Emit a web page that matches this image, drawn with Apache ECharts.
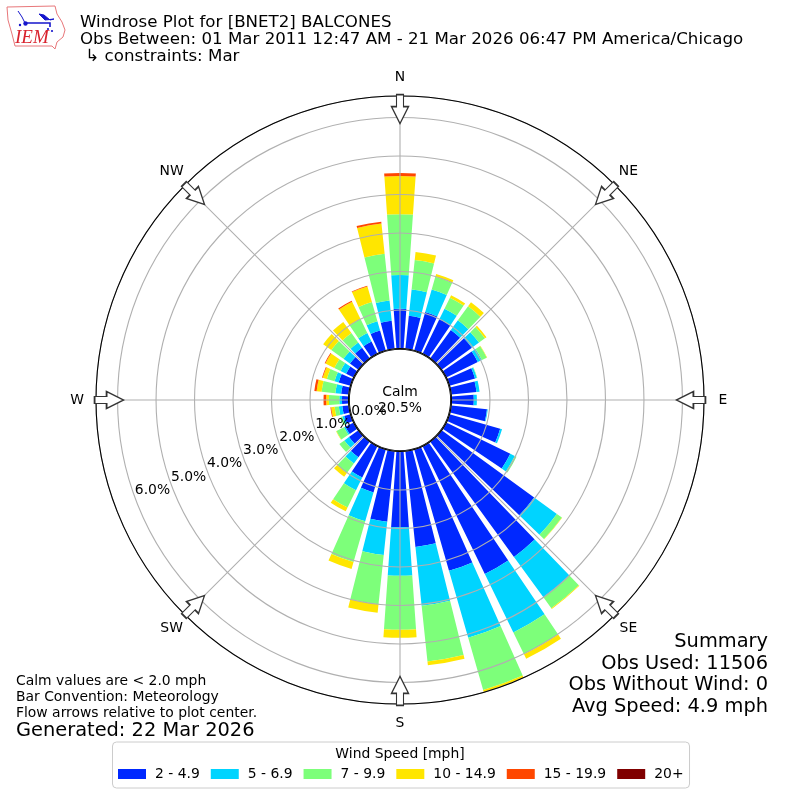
<!DOCTYPE html>
<html><head><meta charset="utf-8">
<style>html,body{margin:0;padding:0;background:#fff}#c{width:800px;height:800px}</style>
<script src="https://cdn.jsdelivr.net/npm/echarts@6/dist/echarts.min.js"></script>
</head><body><div id="c"></div>
<script>
const directions = Array.from({length:36},(_, i)=>String(i*10));
const speedBins = ['2 - 4.9','5 - 6.9','7 - 9.9','10 - 14.9','15 - 19.9','20+'];
const binColors = ['#0028ff','#00d4ff','#7dff7a','#ffe600','#ff4700','#800000'];
const bin1 = [1.03,.86,1.04,1.0,.91,.97,.91,.69,.66,.58,.935,1.37,1.85,2.97,3.70,3.69,3.28,2.5,1.97,1.84,1.16,.9,.5,.30,.24,.17,.17,.17,.2,.32,.22,.27,.34,.35,.54,.73];
const bin2 = [.88,.69,.61,.30,.31,.23,.12,.05,.08,.08,.02,.05,.13,.73,1.30,1.69,1.81,1.54,1.26,.87,.78,.37,.2,.15,.04,.05,.09,.07,.15,.11,.16,.21,.17,.25,.25,.53];
const bin3 = [1.58,.77,.34,.32,.45,.19,.14,.01,0,0,0,0,.05,.16,.35,.63,1.41,1.45,1.40,1.29,1.10,.5,.31,.16,.22,.05,.11,.27,.36,.21,.18,.39,.30,.40,.52,1.22];
const bin4 = [.99,.21,.08,.07,.13,.05,.01,0,0,0,0,0,0,.01,.02,.13,.06,.10,.21,.22,.19,.11,.12,0,.01,0,.09,.07,.13,.11,.26,.26,.36,.50,.42,.79];
const bin5 = [.08,0,0,0,0,0,0,0,0,0,0,0,0,0,0,0,0,0,0,0,0,0,0,0,0,0,.02,.07,.06,.02,.02,0,0,.03,.02,.05];
const bin6 = new Array(36).fill(0);
const binValues = [bin1,bin2,bin3,bin4,bin5,bin6];
const compassNames = ['N','NE','E','SE','S','SW','W','NW'];
const compassAngles = [0,45,90,135,180,225,270,315];
const radiusTicks = [0,1,2,3,4,5,6];
const radiusMax = 6.56;
const arrowRadius = 6.22;
const titleLines = ['Windrose Plot for [BNET2] BALCONES','Obs Between: 01 Mar 2011 12:47 AM - 21 Mar 2026 06:47 PM America/Chicago',' ↳ constraints: Mar'];
const noteLines = ['Calm values are < 2.0 mph','Bar Convention: Meteorology','Flow arrows relative to plot center.'];
const generated = 'Generated: 22 Mar 2026';
const summaryLines = ['Summary','Obs Used: 11506','Obs Without Wind: 0','Avg Speed: 4.9 mph'];

const F = 'DejaVu Sans';
const txt = (x,y,text,size,align,extra)=>({type:'text',x,y,z:20,silent:true,style:Object.assign({text,fill:'#000',font:size+'px "'+F+'"',textAlign:align||'left',textVerticalAlign:'middle'},extra||{})});
const graphics = [];
const titleY=[22.5,39.5,57];
titleLines.forEach((t,i)=>graphics.push(txt(80,titleY[i],t,16.67)));
noteLines.forEach((t,i)=>graphics.push(txt(16,681+i*16,t,13.9)));
graphics.push(txt(16,731,generated,19.4));
const sumY=[642,664,685,707];
summaryLines.forEach((t,i)=>graphics.push(txt(768,sumY[i],t,19.4,'right')));
graphics.push(txt(400,392,'Calm',13.9,'center'));
graphics.push(txt(400,408,'20.5%',13.9,'center'));
graphics.push({type:'circle',z:3,silent:true,shape:{cx:400,cy:400,r:50.7},style:{fill:'#fff',stroke:'#000',lineWidth:1.1}});
graphics.push(txt(400,754,'Wind Speed [mph]',13.9,'center'));
// IEM logo
graphics.push({type:'polygon',z:20,silent:true,shape:{points:[[7,7],[55,6],[57,14],[62,22],[65,30],[63,37],[57,42],[55,49],[52,46],[15,46],[12,34],[8,20]]},style:{fill:'#fff',stroke:'#e8777a',lineWidth:1}});
graphics.push(txt(15,38,'IEM',19,'left',{fill:'#d9232e',font:'italic 19px "Liberation Serif"'}));
graphics.push({type:'polyline',z:20,silent:true,shape:{points:[[25,23],[50,23],[50,27]]},style:{fill:'none',stroke:'#1616cc',lineWidth:1.6}});
graphics.push({type:'polyline',z:20,silent:true,shape:{points:[[18,11],[22,17],[25,23]]},style:{fill:'none',stroke:'#1616cc',lineWidth:1}});
graphics.push({type:'polygon',z:20,silent:true,shape:{points:[[39,14],[44,15],[50,20],[54,19],[45,20]]},style:{fill:'#1616cc',stroke:'#1616cc',lineWidth:1}});
graphics.push({type:'circle',z:20,silent:true,shape:{cx:25.5,cy:23.5,r:2.2},style:{fill:'#1616cc'}});
graphics.push({type:'circle',z:20,silent:true,shape:{cx:20,cy:25,r:1.2},style:{fill:'#1616cc'}});
graphics.push({type:'circle',z:20,silent:true,shape:{cx:48,cy:29,r:1.1},style:{fill:'#1616cc'}});
graphics.push({type:'circle',z:20,silent:true,shape:{cx:52,cy:31,r:1.1},style:{fill:'#1616cc'}});

const barSeries = speedBins.map((name,i)=>({
  name,type:'bar',coordinateSystem:'polar',polarIndex:0,stack:'wind',barWidth:'80%',
  data:binValues[i],itemStyle:{color:binColors[i]},silent:true,z:2
}));

const option = {
  animation:false,backgroundColor:'#fff',
  polar:[
    {center:[400,400],radius:[51.5,304]},
    {center:[400,400],radius:[51.5,304]},
    {center:[400,400],radius:[33,263.4]},
    {center:[400,400],radius:[0,323]}
  ],
  angleAxis:[
    {polarIndex:0,type:'category',data:directions,startAngle:95,show:false},
    {polarIndex:1,type:'value',min:0,max:360,interval:45,startAngle:90,z:5,
      axisLine:{show:true,lineStyle:{color:'#000',width:1.1}},axisTick:{show:false},
      splitLine:{show:true,lineStyle:{color:'#b0b0b0',width:1.1}},axisLabel:{show:false}},
    {polarIndex:2,type:'value',min:0,max:360,startAngle:200,show:false},
    {polarIndex:3,type:'value',min:0,max:360,startAngle:90,show:false}
  ],
  radiusAxis:[
    {polarIndex:0,type:'value',min:0,max:radiusMax,show:false},
    {polarIndex:1,type:'value',min:0,max:radiusMax,interval:1,z:5,axisLine:{show:false},axisTick:{show:false},axisLabel:{show:false},
      splitLine:{show:true,lineStyle:{color:'#b0b0b0',width:1.1}}},
    {polarIndex:2,type:'value',min:radiusTicks[0],max:radiusTicks[radiusTicks.length-1],interval:1,z:8,axisLine:{show:false},axisTick:{show:false},splitLine:{show:false},
      axisLabel:{show:true,margin:0,align:'center',verticalAlign:'middle',fontFamily:F,fontSize:13.9,color:'#000',formatter:v=>v.toFixed(1)+'%',hideOverlap:false}},
    {polarIndex:3,type:'value',min:0,max:1,show:false}
  ],
  legend:{
    data:speedBins,left:112.5,top:742,width:575,orient:'horizontal',
    padding:[25,6,7,5.5],itemWidth:28,itemHeight:10,itemGap:11,icon:'rect',
    borderColor:'#ccc',borderWidth:1,borderRadius:4,backgroundColor:'#fff',
    textStyle:{fontFamily:F,fontSize:13.9,color:'#000',padding:[0,0,0,4]},selectedMode:false
  },
  graphic:graphics,
  series:barSeries.concat([{
    type:'scatter',coordinateSystem:'polar',polarIndex:1,z:7,silent:true,
    data:compassAngles.map(a=>({value:[arrowRadius,a],symbolRotate:-(a+180)})),
    symbol:'path://M8.5 0 L17 17 L12 17 L12 29 L5 29 L5 17 L0 17 Z',
    symbolSize:[17,29],
    itemStyle:{color:'#fff',borderColor:'#333',borderWidth:1.4,opacity:1}
  },{
    type:'scatter',coordinateSystem:'polar',polarIndex:3,z:8,silent:true,
    data:compassAngles.map((a,i)=>({value:[1,a],name:compassNames[i]})),
    symbolSize:1,itemStyle:{color:'transparent',opacity:1},
    label:{show:true,position:'inside',formatter:'{b}',fontFamily:F,fontSize:13.9,color:'#000',align:'center',verticalAlign:'middle'},
    labelLayout:{hideOverlap:false}
  }])
};
echarts.init(document.getElementById('c'),null,{renderer:'canvas'}).setOption(option);
</script></body></html>
